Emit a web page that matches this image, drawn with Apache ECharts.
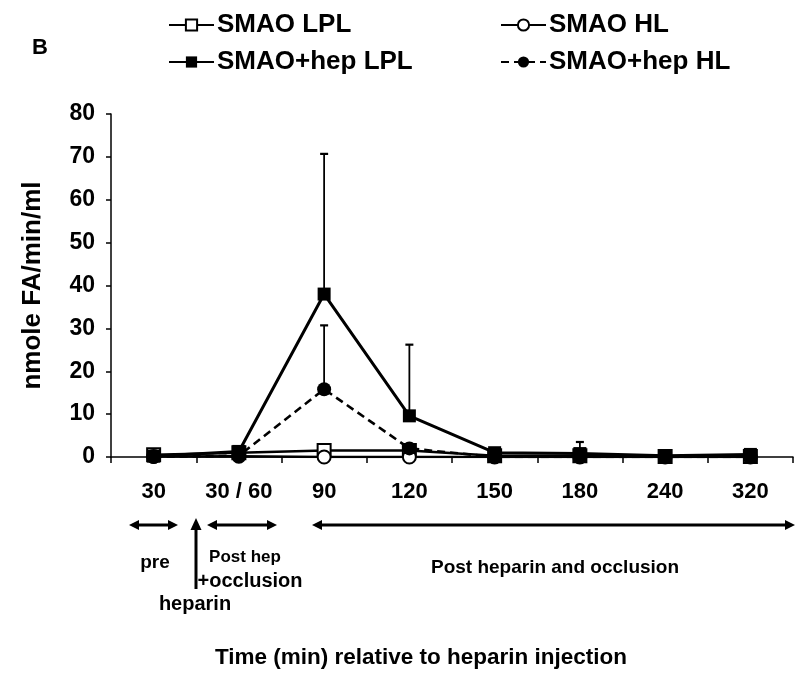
<!DOCTYPE html>
<html>
<head>
<meta charset="utf-8">
<script src="https://cdn.jsdelivr.net/npm/echarts@6/dist/echarts.min.js"></script>
<style>
html,body{margin:0;padding:0;background:#fff;}
#chart{width:800px;height:674px;}
</style>
</head>
<body>
<div id="chart"></div>
<script>
// ---- data ----
var categories = ['30', '30 / 60', '90', '120', '150', '180', '240', '320'];
var smaoLPL     = [0.5, 1.0, 1.5, 1.5, 0.3, 0.3, 0.1, 0.1];
var smaoHL      = [0.1, 0.2, 0.0, 0.0, 0.0, 0.0, 0.0, 0.0];
var hepLPL      = [0.2, 1.3, 38.0, 9.6, 1.0, 0.8, 0.3, 0.6];
var hepHL       = [0.0, 0.3, 15.8, 2.0, 0.0, 0.0, 0.0, 0.0];
var hepLPLerr   = [0, 0, 32.7, 16.6, 0, 2.7, 0, 0];
var hepHLerr    = [0, 0, 14.9, 0, 0, 0, 0, 0];
var yTicks      = [0, 10, 20, 30, 40, 50, 60, 70, 80];

var FONT = "'Liberation Sans', Arial, Helvetica, sans-serif";

function errData(vals, errs) {
  var out = [];
  for (var i = 0; i < vals.length; i++) {
    if (errs[i] > 0) out.push([i, vals[i], errs[i]]);
  }
  return out;
}

function errRender(params, api) {
  var x = api.value(0), v = api.value(1), e = api.value(2);
  var p0 = api.coord([x, v]);
  var p1 = api.coord([x, v + e]);
  var w = 4;
  return {
    type: 'group',
    children: [
      {type: 'line', shape: {x1: p0[0], y1: p0[1], x2: p1[0], y2: p1[1]}, style: {stroke: '#000', lineWidth: 1.8}},
      {type: 'line', shape: {x1: p1[0] - w, y1: p1[1], x2: p1[0] + w, y2: p1[1]}, style: {stroke: '#000', lineWidth: 2.2}}
    ]
  };
}

function hArrow(x1, x2, y) {
  var h = 10, hw = 5;
  return [
    {type: 'line', shape: {x1: x1 + 6, y1: y, x2: x2 - 6, y2: y}, style: {stroke: '#000', lineWidth: 3}},
    {type: 'polygon', shape: {points: [[x1, y], [x1 + h, y - hw], [x1 + h, y + hw]]}, style: {fill: '#000'}},
    {type: 'polygon', shape: {points: [[x2, y], [x2 - h, y - hw], [x2 - h, y + hw]]}, style: {fill: '#000'}}
  ];
}
function txt(t, x, y, size, weight) {
  return {type: 'text', style: {text: t, x: x, y: y, textAlign: 'center', textVerticalAlign: 'middle',
    fontSize: size, fontWeight: weight || 'bold', fontFamily: FONT, fill: '#000'}};
}

var graphics = [];
graphics.push(txt('B', 40, 48, 22));
graphics = graphics.concat(hArrow(129, 178, 525));
graphics = graphics.concat(hArrow(207, 277, 525));
graphics = graphics.concat(hArrow(312, 795, 525));
graphics.push({type: 'line', shape: {x1: 196, y1: 527, x2: 196, y2: 589}, style: {stroke: '#000', lineWidth: 3}});
graphics.push({type: 'polygon', shape: {points: [[196, 518], [190.5, 530], [201.5, 530]]}, style: {fill: '#000'}});
graphics.push(txt('pre', 155, 563, 19));
graphics.push(txt('Post hep', 245, 557, 17));
graphics.push(txt('+occlusion', 250, 581, 20));
graphics.push(txt('heparin', 195, 604, 20));
graphics.push(txt('Post heparin and occlusion', 555, 568, 19));

function legendAt(name, left, top) {
  return {
    data: [name], left: left, top: top, padding: 0,
    itemWidth: 45, itemHeight: 14, itemGap: 0,
    textStyle: {fontSize: 26, fontWeight: 'bold', fontFamily: FONT, color: '#000', lineHeight: 28, padding: [0, 0, 0, -2]},
    selectedMode: false
  };
}

var chart = echarts.init(document.getElementById('chart'), null, {renderer: 'canvas'});
chart.setOption({
  animation: false,
  backgroundColor: '#fff',
  grid: {left: 111, right: 7, top: 114, bottom: 213, containLabel: false},
  legend: [
    legendAt('SMAO LPL', 168, 11),
    legendAt('SMAO HL', 500, 11),
    legendAt('SMAO+hep LPL', 168, 48),
    legendAt('SMAO+hep HL', 500, 48)
  ],
  xAxis: {
    type: 'category',
    data: categories,
    boundaryGap: true,
    axisLine: {lineStyle: {color: '#000', width: 1.5}},
    axisTick: {show: true, length: 6, lineStyle: {color: '#000', width: 1.5}},
    axisLabel: {color: '#000', fontSize: 22, fontWeight: 'bold', fontFamily: FONT, margin: 24, interval: 0},
    splitLine: {show: false},
    name: 'Time (min) relative to heparin injection',
    nameLocation: 'middle',
    nameGap: 189,
    nameTextStyle: {color: '#000', fontSize: 22.5, fontWeight: 'bold', fontFamily: FONT, padding: [0, 62, 0, 0]}
  },
  yAxis: {
    type: 'value',
    min: 0, max: 80, interval: 10,
    axisLine: {show: true, lineStyle: {color: '#000', width: 1.5}},
    axisTick: {show: true, length: 5, lineStyle: {color: '#000', width: 1.5}},
    axisLabel: {color: '#000', fontSize: 23, fontWeight: 'bold', fontFamily: FONT, margin: 16},
    splitLine: {show: false},
    name: 'nmole FA/min/ml',
    nameLocation: 'middle',
    nameGap: 65,
    nameTextStyle: {color: '#000', fontSize: 26, fontWeight: 'bold', fontFamily: FONT}
  },
  graphic: graphics,
  series: [
    {type: 'custom', name: 'errLPL', renderItem: errRender, data: errData(hepLPL, hepLPLerr), z: 1, silent: true},
    {type: 'custom', name: 'errHL', renderItem: errRender, data: errData(hepHL, hepHLerr), z: 1, silent: true},
    {
      name: 'SMAO LPL', type: 'line', data: smaoLPL, z: 2,
      symbol: 'emptyRect', symbolSize: 13,
      itemStyle: {color: '#000', borderWidth: 1.8},
      lineStyle: {color: '#000', width: 2.5}
    },
    {
      name: 'SMAO HL', type: 'line', data: smaoHL, z: 2,
      symbol: 'emptyCircle', symbolSize: 13,
      itemStyle: {color: '#000', borderWidth: 1.8},
      lineStyle: {color: '#000', width: 2.5}
    },
    {
      name: 'SMAO+hep LPL', type: 'line', data: hepLPL, z: 3,
      symbol: 'rect', symbolSize: 13,
      itemStyle: {color: '#000'},
      lineStyle: {color: '#000', width: 3}
    },
    {
      name: 'SMAO+hep HL', type: 'line', data: hepHL, z: 3,
      symbol: 'circle', symbolSize: 14,
      itemStyle: {color: '#000'},
      lineStyle: {color: '#000', width: 2.6, type: [8, 5]}
    }
  ]
});
</script>
</body>
</html>
